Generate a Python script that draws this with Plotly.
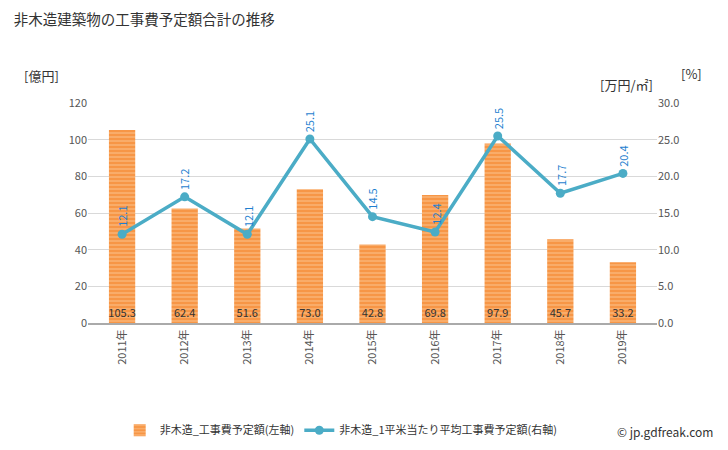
import plotly.graph_objects as go

years = ["2011年", "2012年", "2013年", "2014年", "2015年", "2016年", "2017年", "2018年", "2019年"]
cost_total = [105.3, 62.4, 51.6, 73.0, 42.8, 69.8, 97.9, 45.7, 33.2]
cost_per_m2 = [12.1, 17.2, 12.1, 25.1, 14.5, 12.4, 25.5, 17.7, 20.4]
left_ticks = [0, 20, 40, 60, 80, 100, 120]
right_ticks = [0, 5, 10, 15, 20, 25, 30]

FONT = "Noto Sans CJK JP"
fig = go.Figure()
fig.add_trace(go.Bar(
    x=years, y=cost_total, name="非木造_工事費予定額(左軸)",
    marker=dict(color="#f7a65c", line=dict(width=0),
                pattern=dict(shape="-", fgcolor="#fbd2a8", bgcolor="#f79646", size=4, solidity=0.35)),
    width=0.42,
    text=[f"{v:.1f}" for v in cost_total], textposition="inside", insidetextanchor="start",
    textangle=0, constraintext="none", textfont=dict(color="#333333", size=11, family=FONT),
    yaxis="y", cliponaxis=False,
))
fig.add_trace(go.Scatter(
    x=years, y=cost_per_m2, name="非木造_1平米当たり平均工事費予定額(右軸)",
    mode="lines+markers", line=dict(color="#4bacc6", width=3.5),
    marker=dict(size=9, color="#4bacc6"), yaxis="y2",
))
for x, v in zip(years, cost_per_m2):
    fig.add_annotation(x=x, y=v, yref="y2", text=f"{v:.1f}", textangle=-90,
                       showarrow=False, yanchor="bottom", yshift=5,
                       font=dict(color="#1f7fcf", size=11, family=FONT))

fig.update_layout(
    width=728, height=450,
    margin=dict(l=88, r=71, t=103, b=127, autoexpand=False),
    plot_bgcolor="white", paper_bgcolor="white",
    font=dict(family=FONT, color="#555555", size=11),
    title=dict(text="非木造建築物の工事費予定額合計の推移", x=0.019, y=0.956, xanchor="left", yanchor="middle",
               font=dict(size=14.5, color="#333333", family=FONT)),
    xaxis=dict(tickangle=-90, showline=True, linecolor="#aaaaaa", linewidth=2,
               tickfont=dict(size=11, color="#555555"), ticks="", automargin=False),
    yaxis=dict(range=[0, 120], tickvals=left_ticks, ticktext=[str(t) for t in left_ticks],
               gridcolor="#d9d9d9", showline=False, zeroline=False, automargin=False,
               tickfont=dict(size=11, color="#555555")),
    yaxis2=dict(range=[0, 30], tickvals=right_ticks, ticktext=[f"{t:.1f}" for t in right_ticks],
                overlaying="y", side="right", showgrid=False, zeroline=False, automargin=False,
                tickfont=dict(size=11, color="#555555")),
    legend=dict(orientation="h", x=0.445, xanchor="center", yref="container", y=0.044, yanchor="middle",
                font=dict(size=11, color="#333333"), traceorder="normal"),
    showlegend=True, bargap=0.5,
)
fig.add_annotation(text="[億円]", xref="paper", yref="paper", x=-0.116, y=1.127, xanchor="left",
                   yanchor="middle", showarrow=False, font=dict(size=13, color="#333333"))
fig.add_annotation(text="[万円/㎡]", xref="paper", yref="paper", x=0.996, y=1.082, xanchor="right",
                   yanchor="middle", showarrow=False, font=dict(size=13, color="#333333"))
fig.add_annotation(text="[%]", xref="paper", yref="paper", x=1.038, y=1.132, xanchor="left",
                   yanchor="middle", showarrow=False, font=dict(size=13, color="#333333"))
fig.add_annotation(text="© jp.gdfreak.com", xref="paper", yref="paper", x=1.102, y=-0.495, xanchor="right",
                   yanchor="middle", showarrow=False, font=dict(size=12, color="#333333"))
fig.write_html("out.html", config={"displayModeBar": False},
               post_script="document.body.style.margin='0';")
